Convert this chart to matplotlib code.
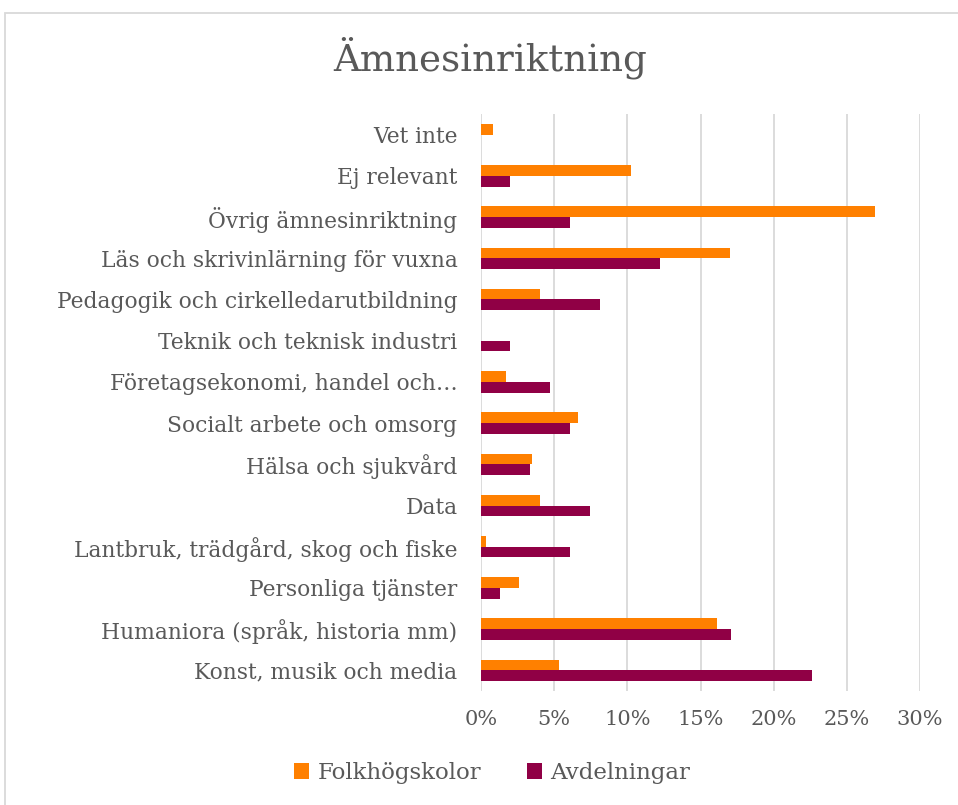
import matplotlib.pyplot as plt
from matplotlib.patches import Rectangle
from matplotlib.ticker import FuncFormatter, MultipleLocator
import numpy as np

# kategorier, nerifrån och upp
kategorier = [
    'Konst, musik och media',
    'Humaniora (språk, historia mm)',
    'Personliga tjänster',
    'Lantbruk, trädgård, skog och fiske',
    'Data',
    'Hälsa och sjukvård',
    'Socialt arbete och omsorg',
    'Företagsekonomi, handel och…',
    'Teknik och teknisk industri',
    'Pedagogik och cirkelledarutbildning',
    'Läs och skrivinlärning för vuxna',
    'Övrig ämnesinriktning',
    'Ej relevant',
    'Vet inte',
]
folkhogskolor = [5.3, 16.1, 2.6, 0.35, 4.0, 3.5, 6.6, 1.7, 0.0, 4.0, 17.0, 26.9, 10.25, 0.8]
avdelningar = [22.6, 17.1, 1.3, 6.1, 7.45, 3.35, 6.1, 4.7, 2.0, 8.1, 12.2, 6.1, 2.0, 0.0]

orange = '#FF8000'
lila = '#900045'
textfarg = '#595959'

plt.rcParams['font.family'] = ['DejaVu Serif']

fig = plt.figure(figsize=(9.58, 8.05), dpi=100)
ax = fig.add_axes([481 / 958, 1 - 691 / 805, (920 - 481) / 958, (691 - 114) / 805])

y = np.arange(len(kategorier))
h = 0.26
ax.barh(y + h / 2, folkhogskolor, height=h, color=orange, label='Folkhögskolor', zorder=3)
ax.barh(y - h / 2, avdelningar, height=h, color=lila, label='Avdelningar', zorder=3)

ax.set_xlim(0, 30)
ax.set_ylim(-0.5, len(kategorier) - 0.5)
ax.xaxis.set_major_locator(MultipleLocator(5))
ax.xaxis.set_major_formatter(FuncFormatter(lambda v, p: f'{v:.0f}%'))
ax.set_yticks(y)
ax.set_yticklabels(kategorier)
ax.tick_params(axis='y', length=0, colors=textfarg, labelsize=15.7, pad=17)
ax.tick_params(axis='x', length=0, colors=textfarg, labelsize=15, pad=14)
ax.grid(axis='x', color='#D9D9D9', linewidth=1.3, zorder=0)
for s in ax.spines.values():
    s.set_visible(False)

fig.text(490 / 958, 1 - 58 / 805, 'Ämnesinriktning', ha='center', va='center',
         fontsize=26.8, color=textfarg)

fig.legend(loc='center', bbox_to_anchor=(492 / 958, 1 - 773 / 805), ncol=2,
           frameon=False, fontsize=16.5, labelcolor=textfarg,
           handlelength=0.65, handleheight=0.65, columnspacing=2.0, handletextpad=0.35)

# ram runt diagrammet
fig.patches.append(Rectangle((5 / 958, -0.01), 1.1, 1 - 13 / 805 + 0.01,
                             transform=fig.transFigure, fill=False,
                             edgecolor='#D9D9D9', linewidth=1.3))

fig.savefig('out.png', dpi=100)
